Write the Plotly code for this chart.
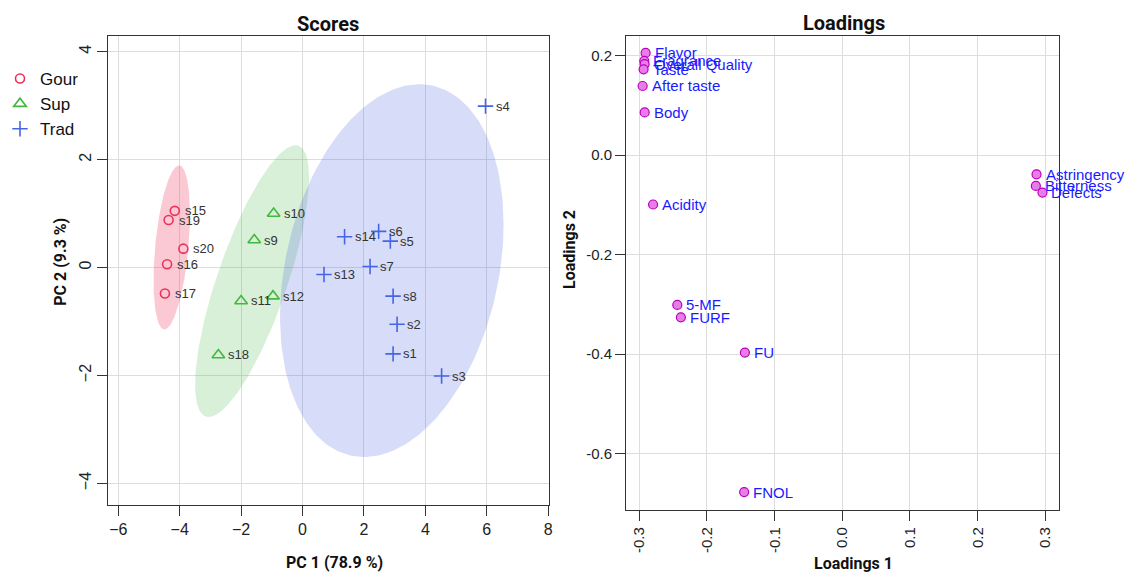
import numpy as np
import plotly.graph_objects as go

# ---------------- data ----------------
groups = ["Gour", "Sup", "Trad"]

gour_names = ["s15", "s19", "s20", "s16", "s17"]
gour_pc1 = [-4.16, -4.36, -3.88, -4.41, -4.48]
gour_pc2 = [1.05, 0.88, 0.35, 0.06, -0.48]

sup_names = ["s10", "s9", "s11", "s12", "s18"]
sup_pc1 = [-0.94, -1.57, -2.00, -0.96, -2.74]
sup_pc2 = [1.00, 0.51, -0.62, -0.53, -1.62]

trad_names = ["s4", "s14", "s6", "s5", "s13", "s7", "s8", "s2", "s1", "s3"]
trad_pc1 = [5.96, 1.37, 2.48, 2.86, 0.70, 2.20, 2.95, 3.08, 2.95, 4.53]
trad_pc2 = [2.99, 0.57, 0.67, 0.49, -0.13, 0.02, -0.53, -1.05, -1.60, -2.01]

load_names = ["Flavor", "Fragrance", "Overall Quality", "Taste", "After taste", "Body",
              "Acidity", "Astringency", "Bitterness", "Defects", "5-MF", "FURF", "FU", "FNOL"]
load_1 = [-0.2907, -0.2927, -0.2922, -0.2937, -0.2951, -0.2921,
          -0.2797, 0.2870, 0.2860, 0.2958, -0.2439, -0.2386, -0.1440, -0.1451]
load_2 = [0.205, 0.189, 0.1825, 0.172, 0.1386, 0.0855,
          -0.0994, -0.0388, -0.0622, -0.0755, -0.3012, -0.3261, -0.3968, -0.677]

score_xticks = [-6, -4, -2, 0, 2, 4, 6, 8]
score_yticks = [-4, -2, 0, 2, 4]
load_xticks = [-0.3, -0.2, -0.1, 0.0, 0.1, 0.2, 0.3]
load_xticktext = ["-0.3", "-0.2", "-0.1", "0.0", "0.1", "0.2", "0.3"]
load_yticks = [-0.6, -0.4, -0.2, 0.0, 0.2]
load_yticktext = ["-0.6", "-0.4", "-0.2", "0.0", "0.2"]

# ---------------- styles ----------------
W, H = 1130, 572
col = {"Gour": "rgb(235,50,90)", "Sup": "rgb(65,185,65)", "Trad": "rgb(70,100,230)"}
fill = {"Gour": "rgba(235,55,95,0.27)", "Sup": "rgba(65,185,65,0.21)", "Trad": "rgba(65,90,225,0.21)"}
sym = {"Gour": "circle-open", "Sup": "triangle-up-open", "Trad": "cross-thin-open"}
msize = {"Gour": 9, "Sup": 11, "Trad": 11}

def px_x(p):
    return p / W

def px_y(p):
    return 1 - p / H

def conf_ellipse(x, y, level_t=2.4477, n=200):
    x = np.asarray(x, float)
    y = np.asarray(y, float)
    cov = np.cov(x, y)
    L = np.linalg.cholesky(cov)
    th = np.linspace(0, 2 * np.pi, n)
    circ = np.vstack([np.cos(th), np.sin(th)])
    pts = L @ circ * level_t
    return x.mean() + pts[0], y.mean() + pts[1]

fig = go.Figure()

data = {
    "Gour": (gour_names, gour_pc1, gour_pc2),
    "Sup": (sup_names, sup_pc1, sup_pc2),
    "Trad": (trad_names, trad_pc1, trad_pc2),
}

# ellipses
for g in groups:
    names, xs, ys = data[g]
    ex, ey = conf_ellipse(xs, ys)
    fig.add_trace(go.Scatter(x=ex, y=ey, mode="lines", fill="toself", fillcolor=fill[g],
                             line=dict(width=0), hoverinfo="skip", showlegend=False,
                             xaxis="x", yaxis="y"))

# points
for g in groups:
    names, xs, ys = data[g]
    fig.add_trace(go.Scatter(x=xs, y=ys, mode="markers", name=g,
                             marker=dict(symbol=sym[g], size=msize[g], color=col[g],
                                         line=dict(width=1.6, color=col[g])),
                             xaxis="x", yaxis="y"))

annotations = []
for g in groups:
    names, xs, ys = data[g]
    for n, xv, yv in zip(names, xs, ys):
        annotations.append(dict(x=xv, y=yv, xref="x", yref="y", text=n, showarrow=False,
                                xanchor="left", yanchor="middle", xshift=8,
                                font=dict(family="Liberation Sans, Arial", size=13, color="#333333")))

# loadings
fig.add_trace(go.Scatter(x=load_1, y=load_2, mode="markers", showlegend=False,
                         marker=dict(symbol="circle", size=9, color="rgb(232,125,232)",
                                     line=dict(width=1.2, color="rgb(185,0,185)")),
                         xaxis="x2", yaxis="y2"))
for n, xv, yv in zip(load_names, load_1, load_2):
    annotations.append(dict(x=xv, y=yv, xref="x2", yref="y2", text=n, showarrow=False,
                            xanchor="left", yanchor="middle", xshift=7,
                            font=dict(family="Liberation Sans, Arial", size=15, color="#1a1aff")))

title_font = dict(family="Roboto, Liberation Sans", size=20, color="#111111")
lab_font = dict(family="Roboto, Liberation Sans", size=16, color="#111111")
annotations += [
    dict(x=px_x(328), y=px_y(24), xref="paper", yref="paper", text="<b>Scores</b>",
         showarrow=False, xanchor="center", yanchor="middle", font=title_font),
    dict(x=px_x(846), y=px_y(23), xref="paper", yref="paper", text="<b>Loadings</b>",
         showarrow=False, xanchor="center", yanchor="middle", font=title_font),
    dict(x=px_x(334), y=px_y(562), xref="paper", yref="paper", text="<b>PC 1 (78.9 %)</b>",
         showarrow=False, xanchor="center", yanchor="middle", font=lab_font),
    dict(x=px_x(856), y=px_y(563), xref="paper", yref="paper", text="<b>Loadings 1</b>",
         showarrow=False, xanchor="center", yanchor="middle", font=lab_font),
    dict(x=px_x(58), y=px_y(262), xref="paper", yref="paper", text="<b>PC 2 (9.3 %)</b>",
         showarrow=False, xanchor="center", yanchor="middle", textangle=-90, font=lab_font),
    dict(x=px_x(570), y=px_y(249), xref="paper", yref="paper", text="<b>Loadings 2</b>",
         showarrow=False, xanchor="center", yanchor="middle", textangle=-90, font=lab_font),
]

axis_common = dict(showline=True, mirror=True, linecolor="#333333", linewidth=1.4,
                   ticks="outside", ticklen=10, tickwidth=1.4, tickcolor="#333333",
                   showgrid=True, gridcolor="#DDDDDD", gridwidth=1, zeroline=False,
                   tickfont=dict(family="Liberation Sans, Arial", size=16, color="#222222"))

fig.update_layout(
    width=W, height=H,
    margin=dict(l=0, r=0, t=0, b=0),
    paper_bgcolor="white", plot_bgcolor="white",
    showlegend=True,
    legend=dict(x=-0.002, y=px_y(61), xanchor="left", yanchor="top",
                font=dict(family="Liberation Sans, Arial", size=17, color="#111111"),
                bgcolor="rgba(0,0,0,0)", tracegroupgap=0),
    xaxis=dict(axis_common, domain=[px_x(107), px_x(550)], range=[-6.32, 8.03],
               tickmode="array", tickvals=score_xticks, anchor="y"),
    yaxis=dict(axis_common, domain=[px_y(505), px_y(36)], range=[-4.40, 4.29],
               tickmode="array", tickvals=score_yticks, tickangle=-90, anchor="x"),
    xaxis2=dict(axis_common, domain=[px_x(627.6), px_x(1062.7)], range=[-0.3193, 0.3203],
                tickmode="array", tickvals=load_xticks, ticktext=load_xticktext,
                tickangle=-90, anchor="y2",
                tickfont=dict(family="Liberation Sans, Arial", size=15, color="#222222")),
    yaxis2=dict(axis_common, domain=[px_y(510), px_y(36)], range=[-0.713, 0.239],
                tickmode="array", tickvals=load_yticks, ticktext=load_yticktext, anchor="x2",
                tickfont=dict(family="Liberation Sans, Arial", size=15, color="#222222")),
    annotations=annotations,
)

fig.write_html("out.html", config={"displayModeBar": False},
               post_script="document.body.style.margin='0';")
